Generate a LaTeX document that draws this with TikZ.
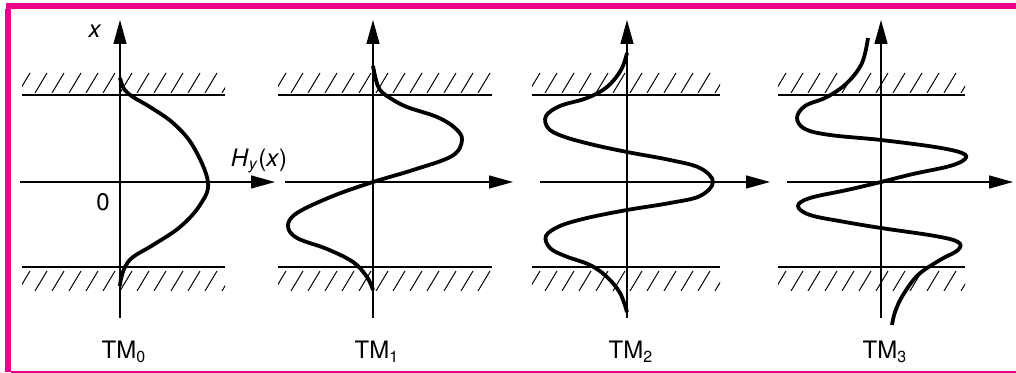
\documentclass[tikz,border=0pt]{standalone}
\usepackage{fontspec}
\setmainfont{TeX Gyre Heros}
\usetikzlibrary{arrows.meta}
\definecolor{framemagenta}{RGB}{236,0,140}
\begin{document}
\begin{tikzpicture}[x=0.5pt, y=-0.5pt, font=\fontsize{12}{14}\selectfont]
    % Set up styles
    \tikzstyle{axis} = [line width=0.65pt, -{Triangle[length=12pt,width=6.5pt]}]
    \tikzstyle{wall} = [line width=0.7pt]
    \tikzstyle{hatch} = [line width=0.5pt]
    \tikzstyle{mode} = [line width=1.9pt, smooth, tension=0.6]

    \useasboundingbox (0,0) rectangle (1016,373);

    % Draw the frame
    \fill[framemagenta] (6,3) rectangle (1016,9);
    \fill[framemagenta] (5,9) rectangle (11,372);
    \fill[framemagenta] (11,370.5) rectangle (1016,372.5);

    % Draw the slabs and axes of each panel
    \foreach \ax/\hl/\hr/\al/\ar/\m in {120/22/225/20/275/0, 373/278/492/285/513/1,
                                        627/532/720/540/770/2, 881/778/965/787/1013/3} {
        \draw[wall] (\hl,95) -- (\hr,95);
        \draw[wall] (\hl,267) -- (\hr,267);
        \begin{scope}
            \clip (\hl,71) rectangle (\hr,93);
            \foreach \k in {0,...,13}
                \draw[hatch] (\hl-4+\k*17,93) -- ++(12,-20);
        \end{scope}
        \begin{scope}
            \clip (\hl,269) rectangle (\hr,291);
            \foreach \k in {0,...,13}
                \draw[hatch] (\hl-4+\k*17,291) -- ++(12,-20);
        \end{scope}
        \draw[axis] (\ax,318) -- (\ax,20);
        \draw[axis] (\al,182) -- (\ar,182);
        \node (tm\m) at (\ax+4,352) {TM\textsubscript{\m}};
    }

    % Label the axes
    \node (xlabel) at (95,31) {\textit{x}};
    \node (hlabel) at (259,161) {\textit{H}\textsubscript{\textit{y}}(\textit{x})};
    \node (zero) at (103,202) {0};

    % Draw the mode profiles
    \draw[mode] plot coordinates {(120,78) (124,89) (133,97) (150,107) (173,123)
        (193,146) (208,182) (200,205) (180,227) (153,245) (133,257) (125,267)
        (121,279) (120,286)};
    \draw[mode] plot coordinates {(373,66) (376,80) (380,90) (390,98) (407,107)
        (437,117) (455,128) (462,140) (452,156) (413,170) (373,182) (333,196)
        (297,213) (288,226) (297,238) (327,249) (353,262) (367,277) (373,290)};
    \draw[mode] plot coordinates {(627,53) (621,70) (607,87) (587,98) (560,106)
        (546,116) (548,128) (562,136) (590,144) (627,152) (670,160) (700,168)
        (713,182) (700,196) (670,203) (627,210) (587,218) (560,226) (546,236)
        (550,248) (565,256) (590,265) (607,277) (620,293) (627,312)};
    \draw[mode] plot coordinates {(868,38) (862,63) (847,83) (827,97) (805,106)
        (797,118) (805,129) (830,135) (881,140) (935,147) (962,153) (965,159)
        (950,166) (913,174) (881,182) (847,190) (810,198) (798,206) (810,215)
        (845,222) (881,228) (935,236) (958,242) (958,250) (940,260) (918,275)
        (903,295) (895,312) (892,325)};

\end{tikzpicture}
\end{document}
